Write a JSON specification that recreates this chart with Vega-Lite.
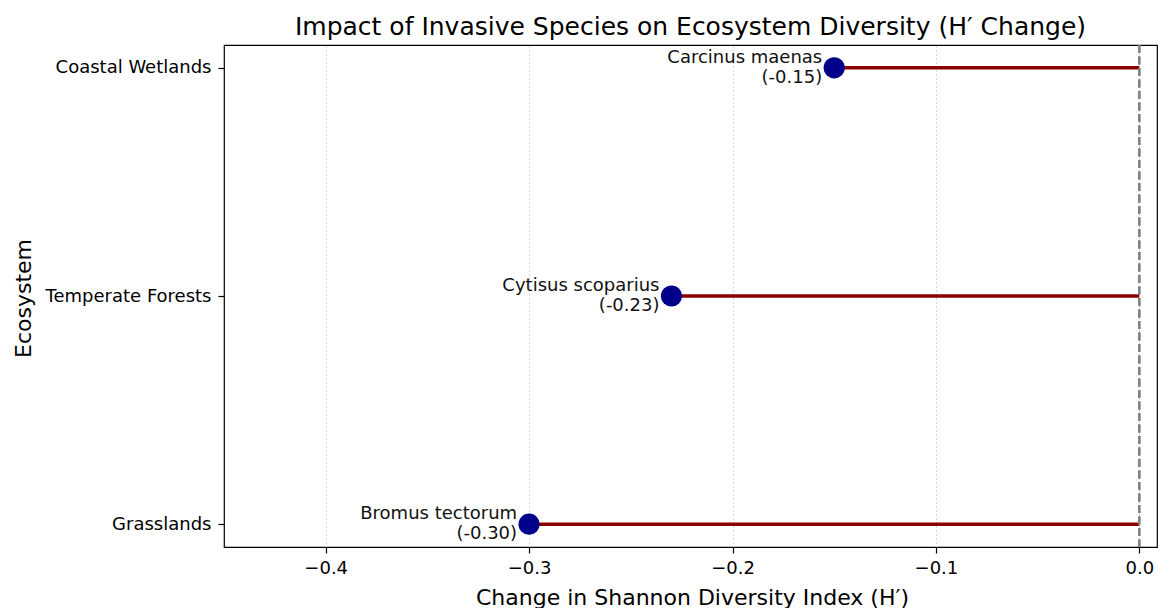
{
  "$schema": "https://vega.github.io/schema/vega-lite/v6.json",
  "width": 933,
  "height": 502,
  "autosize": {"type": "none"},
  "padding": {"left": 224, "top": 45, "right": 1, "bottom": 61},
  "background": "white",
  "config": {
    "font": "DejaVu Sans",
    "view": {"stroke": "#000000", "strokeWidth": 1.2}
  },
  "title": {
    "text": "Impact of Invasive Species on Ecosystem Diversity (H′ Change)",
    "fontSize": 25,
    "fontWeight": "normal",
    "font": "DejaVu Sans",
    "color": "#000000",
    "anchor": "middle",
    "frame": "group",
    "baseline": "alphabetic",
    "offset": 12,
    "dy": 28
  },
  "data": {
    "values": [
      {"ecosystem": "Coastal Wetlands", "species": "Carcinus maenas", "label": "(-0.15)", "change": -0.15},
      {"ecosystem": "Temperate Forests", "species": "Cytisus scoparius", "label": "(-0.23)", "change": -0.23},
      {"ecosystem": "Grasslands", "species": "Bromus tectorum", "label": "(-0.30)", "change": -0.30}
    ]
  },
  "encoding": {
    "y": {
      "field": "ecosystem",
      "type": "nominal",
      "sort": ["Coastal Wetlands", "Temperate Forests", "Grasslands"],
      "scale": {"type": "point", "padding": 0.1},
      "axis": {
        "title": "Ecosystem",
        "titleFontSize": 22,
        "titleFontWeight": "normal",
        "titleColor": "#000000",
        "titleAngle": -90,
        "titleAlign": "center",
        "titleBaseline": "alphabetic",
        "titleX": -194,
        "titleY": 253,
        "labelFontSize": 18,
        "labelColor": "#000000",
        "labelPadding": 7,
        "tickSize": 6,
        "tickColor": "#000000",
        "tickWidth": 1.2,
        "domain": false,
        "grid": false
      }
    }
  },
  "layer": [
    {
      "mark": {"type": "rule", "color": "#8B0000", "strokeWidth": 3.6},
      "encoding": {
        "x": {
          "field": "change",
          "type": "quantitative",
          "scale": {"domain": [-0.45, 0.0087], "nice": false, "zero": false},
          "axis": {
            "values": [-0.4, -0.3, -0.2, -0.1, 0.0],
            "format": ".1f",
            "labelExpr": "replace(datum.label, '-', '−')",
            "title": "Change in Shannon Diversity Index (H′)",
            "titleFontSize": 22,
            "titleFontWeight": "normal",
            "titleColor": "#000000",
            "titleAlign": "center",
            "titleBaseline": "alphabetic",
            "titleX": 468,
            "titleY": 57,
            "labelFontSize": 18,
            "labelColor": "#000000",
            "labelBaseline": "alphabetic",
            "labelPadding": 20,
            "tickSize": 6,
            "tickColor": "#000000",
            "tickWidth": 1.2,
            "domain": false,
            "grid": true,
            "gridColor": "#c8c8c8",
            "gridDash": [1.5, 2.5],
            "gridWidth": 1
          }
        },
        "x2": {"datum": 0}
      }
    },
    {
      "mark": {"type": "rule", "color": "#808080", "strokeWidth": 2, "strokeDash": [8, 3.5]},
      "encoding": {"x": {"datum": 0, "type": "quantitative"}, "y": null}
    },
    {
      "mark": {"type": "point", "filled": true, "color": "#00008B", "size": 450, "opacity": 1, "shape": "circle"},
      "encoding": {"x": {"field": "change", "type": "quantitative"}}
    },
    {
      "mark": {"type": "text", "align": "right", "baseline": "alphabetic", "dx": -12, "dy": -5, "fontSize": 18, "color": "#111111"},
      "encoding": {"x": {"field": "change", "type": "quantitative"}, "text": {"field": "species"}}
    },
    {
      "mark": {"type": "text", "align": "right", "baseline": "alphabetic", "dx": -12, "dy": 15, "fontSize": 18, "color": "#111111"},
      "encoding": {"x": {"field": "change", "type": "quantitative"}, "text": {"field": "label"}}
    }
  ]
}
